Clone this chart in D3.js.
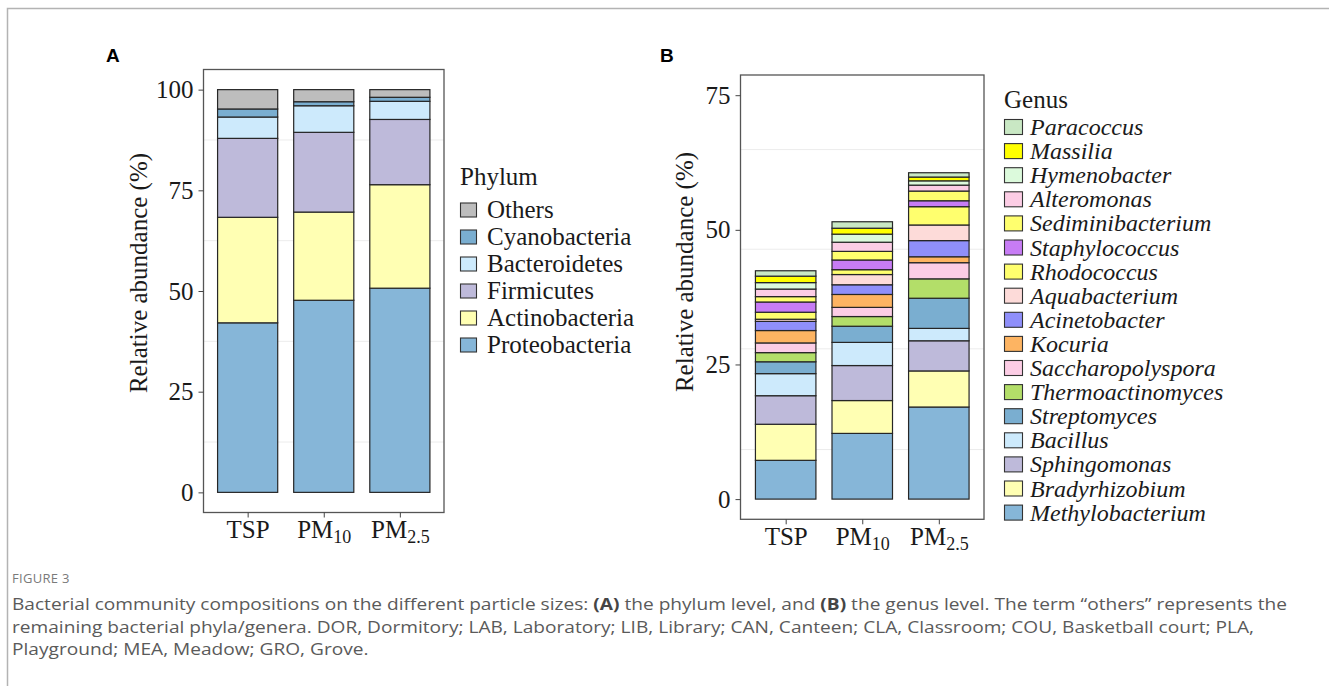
<!DOCTYPE html>
<html>
<head>
<meta charset="utf-8">
<script src="https://cdn.jsdelivr.net/npm/d3@7"></script>
<style>
  html, body { margin: 0; padding: 0; background: #fff; }
  svg { display: block; }
</style>
</head>
<body>
<svg id="fig" width="1329" height="686"></svg>
<script>
// --- Data ---
const samples = ['TSP', 'PM10', 'PM2.5'];

// Phylum level, stacked bottom -> top
const phyla = ['Proteobacteria', 'Actinobacteria', 'Firmicutes', 'Bacteroidetes', 'Cyanobacteria', 'Others'];
const phylumTSP  = [42.1, 26.2, 19.6, 5.3, 2.0, 4.8];
const phylumPM10 = [47.7, 21.9, 19.8, 6.6, 1.0, 3.0];
const phylumPM25 = [50.7, 25.7, 16.2, 4.5, 1.0, 1.9];
const phylumColors = ['#86b6d8', '#ffffb3', '#bebada', '#cdeafc', '#7aaed0', '#bdbdbd'];
const phylumTicks = [0, 25, 50, 75, 100];
const phylumGrid = [12.5, 37.5, 62.5, 87.5];

// Genus level, stacked bottom -> top
const genera = ['Methylobacterium', 'Bradyrhizobium', 'Sphingomonas', 'Bacillus', 'Streptomyces',
  'Thermoactinomyces', 'Saccharopolyspora', 'Kocuria', 'Acinetobacter', 'Aquabacterium',
  'Rhodococcus', 'Staphylococcus', 'Sediminibacterium', 'Alteromonas', 'Hymenobacter',
  'Massilia', 'Paracoccus'];
const genusTSP  = [7.2, 6.7, 5.3, 4.1, 2.2, 1.7, 1.8, 2.3, 1.7, 0.4, 1.3, 1.9, 1.0, 1.4, 1.2, 1.2, 1.0];
const genusPM10 = [12.2, 6.1, 6.5, 4.3, 3.0, 1.8, 1.7, 2.4, 1.8, 1.9, 0.9, 1.8, 1.6, 1.7, 1.5, 1.1, 1.2];
const genusPM25 = [17.1, 6.7, 5.6, 2.3, 5.6, 3.6, 3.0, 1.1, 3.0, 2.9, 3.4, 1.1, 1.8, 1.1, 0.8, 0.7, 0.8];
const genusColors = ['#86b6d8', '#ffffb3', '#bebada', '#cdeafc', '#7aaed0',
  '#b3de69', '#fccde5', '#fdb462', '#8f8ffa', '#fddbd9',
  '#ffff6e', '#c77cf5', '#ffff6e', '#fccde5', '#dcfadc',
  '#ffff00', '#c9e8c4'];
const genusTicks = [0, 25, 50, 75];
const genusGrid = [9.2, 27.9, 46.4, 64.9];

const captionLines = [
  ['Bacterial community compositions on the different particle sizes: ', ['(A)'], ' the phylum level, and ', ['(B)'], ' the genus level. The term \u201cothers\u201d represents the'],
  ['remaining bacterial phyla/genera. DOR, Dormitory; LAB, Laboratory; LIB, Library; CAN, Canteen; CLA, Classroom; COU, Basketball court; PLA,'],
  ['Playground; MEA, Meadow; GRO, Grove.']
];

// --- Rendering ---
const svg = d3.select('#fig');
const SERIF = '"Liberation Serif", "Times New Roman", serif';

// outer figure frame (top and left rule)
svg.append('path')
  .attr('d', 'M7.5,686V8.5H1329')
  .attr('fill', 'none')
  .attr('stroke', '#b3b3b3')
  .attr('stroke-width', 1.5);

function drawPanel(o) {
  const g = svg.append('g');
  const y = d3.scaleLinear().domain(o.domain).range([o.bottom, o.top]);
  const x = d3.scalePoint().domain(samples).range([o.left, o.right]).padding(o.pad);
  const bw = x.step() * 0.79;

  // grid
  g.append('g').selectAll('line')
    .data(o.grid)
    .join('line')
    .attr('x1', o.left).attr('x2', o.right)
    .attr('y1', d => y(d)).attr('y2', d => y(d))
    .attr('stroke', '#ececec')
    .attr('stroke-width', 1);

  // stacked bars
  const rows = samples.map((s, i) => {
    const r = { sample: s };
    o.keys.forEach((k, j) => { r[k] = o.values[i][j]; });
    return r;
  });
  const series = d3.stack().keys(o.keys)(rows);
  const color = d3.scaleOrdinal().domain(o.keys).range(o.colors);

  g.append('g').selectAll('g')
    .data(series)
    .join('g')
    .attr('fill', d => color(d.key))
    .selectAll('rect')
    .data(d => d)
    .join('rect')
    .attr('x', d => x(d.data.sample) - bw / 2)
    .attr('width', bw)
    .attr('y', d => y(d[1]))
    .attr('height', d => y(d[0]) - y(d[1]))
    .attr('stroke', '#262626')
    .attr('stroke-width', 1.2);

  // panel border
  g.append('rect')
    .attr('x', o.left).attr('y', o.top)
    .attr('width', o.right - o.left).attr('height', o.bottom - o.top)
    .attr('fill', 'none')
    .attr('stroke', '#555')
    .attr('stroke-width', 1.3);

  // y axis
  const ya = g.append('g')
    .attr('transform', `translate(${o.left},0)`)
    .call(d3.axisLeft(y).tickValues(o.ticks).tickSize(5).tickPadding(5));
  ya.select('.domain').remove();
  ya.selectAll('.tick line').attr('stroke', '#444');
  ya.selectAll('.tick text')
    .attr('font-family', SERIF).attr('font-size', 25).attr('fill', '#1a1a1a');

  // x axis
  const xa = g.append('g')
    .attr('transform', `translate(0,${o.bottom})`)
    .call(d3.axisBottom(x).tickSize(5).tickPadding(5));
  xa.select('.domain').remove();
  xa.selectAll('.tick line').attr('stroke', '#444');
  xa.selectAll('.tick text')
    .attr('font-family', SERIF).attr('font-size', 25).attr('fill', '#1a1a1a')
    .attr('y', o.xLabelY - o.bottom).attr('dy', 0)
    .each(function(d) {
      const t = d3.select(this).text('');
      if (d.startsWith('PM')) {
        t.append('tspan').text('PM');
        t.append('tspan').attr('font-size', 18).attr('dy', 5).text(d.slice(2));
      } else {
        t.append('tspan').text(d);
      }
    });

  // y title
  g.append('text')
    .attr('transform', `translate(${o.titleX},${o.titleY}) rotate(-90)`)
    .attr('text-anchor', 'middle')
    .attr('font-family', SERIF).attr('font-size', 25).attr('fill', '#1a1a1a')
    .text('Relative abundance (%)');

  // panel letter
  svg.append('text')
    .attr('x', o.letterX).attr('y', 62)
    .attr('font-family', 'Arial, "Liberation Sans", sans-serif')
    .attr('font-weight', 'bold').attr('font-size', 19)
    .text(o.letter);

  // legend (reversed: top of stack first)
  const lg = svg.append('g');
  lg.append('text')
    .attr('x', o.legX).attr('y', o.legTitleY)
    .attr('font-family', SERIF).attr('font-size', 25).attr('fill', '#1a1a1a')
    .text(o.legTitle);
  const items = o.keys.slice().reverse();
  const it = lg.selectAll('g.item')
    .data(items)
    .join('g')
    .attr('class', 'item')
    .attr('transform', (d, i) => `translate(${o.legX},${o.legY0 + i * o.legStep})`);
  it.append('rect')
    .attr('x', 0.5).attr('y', -o.keyH / 2)
    .attr('width', o.keyW).attr('height', o.keyH)
    .attr('fill', d => color(d))
    .attr('stroke', '#333').attr('stroke-width', 1.1);
  it.append('text')
    .attr('x', o.labelDx).attr('y', 8)
    .attr('font-family', SERIF).attr('font-size', o.labelSize)
    .attr('font-style', o.italic ? 'italic' : 'normal')
    .attr('fill', '#1a1a1a')
    .text(d => d);
}

drawPanel({
  left: 203.5, right: 444, top: 69.5, bottom: 512.5,
  domain: [-5, 105], pad: 0.58,
  keys: phyla, values: [phylumTSP, phylumPM10, phylumPM25], colors: phylumColors,
  ticks: phylumTicks, grid: phylumGrid,
  xLabelY: 538, titleX: 147, titleY: 273,
  letter: 'A', letterX: 106,
  legTitle: 'Phylum', legX: 460, legTitleY: 185, legY0: 210, legStep: 27,
  keyW: 16, keyH: 14, labelDx: 27, labelSize: 25, italic: false
});

drawPanel({
  left: 740.5, right: 984, top: 75, bottom: 519.3,
  domain: [-3.75, 78.75], pad: 0.59,
  keys: genera, values: [genusTSP, genusPM10, genusPM25], colors: genusColors,
  ticks: genusTicks, grid: genusGrid,
  xLabelY: 545, titleX: 693, titleY: 272,
  letter: 'B', letterX: 660,
  legTitle: 'Genus', legX: 1004, legTitleY: 108, legY0: 127, legStep: 24.1,
  keyW: 18, keyH: 15, labelDx: 26, labelSize: 24, italic: true
});

// --- Caption ---
const cap = svg.append('g').attr('font-family', '"Open Sans", "Noto Sans", sans-serif');
cap.append('text')
  .attr('x', 12).attr('y', 583)
  .attr('font-size', 13).attr('fill', '#7a7a7a').attr('letter-spacing', 0.3)
  .text('FIGURE 3');

const capTexts = captionLines.map((parts, i) => {
  const t = cap.append('text')
    .attr('x', 0).attr('y', 0)
    .attr('font-size', 15.5).attr('fill', '#5a5a5a');
  parts.forEach(p => {
    if (Array.isArray(p)) t.append('tspan').attr('font-weight', 'bold').attr('fill', '#454545').text(p[0]);
    else t.append('tspan').text(p);
  });
  return t;
});
// stretch caption horizontally so the first line spans the same width as in the figure
const w0 = capTexts[0].node().getComputedTextLength();
const k = 1276 / w0;
capTexts.forEach((t, i) => t.attr('transform', `translate(12,${610 + i * 22.5}) scale(${k},1)`));
</script>
</body>
</html>
